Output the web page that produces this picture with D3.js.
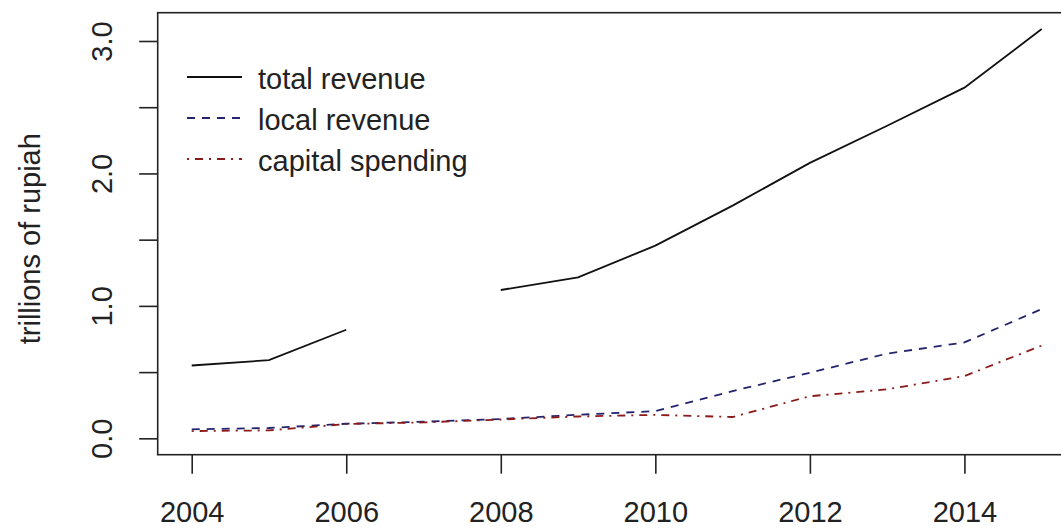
<!DOCTYPE html>
<html>
<head>
<meta charset="utf-8">
<script src="https://cdn.jsdelivr.net/npm/d3@7"></script>
<style>
  html, body { margin: 0; padding: 0; background: #fff; }
  svg { display: block; }
  text { font-family: "Liberation Sans", Arial, sans-serif; fill: #222; }
</style>
</head>
<body>
<svg id="chart" width="1061" height="529"></svg>
<script>
// Annual figures, trillions of rupiah
const years = [2004, 2005, 2006, 2007, 2008, 2009, 2010, 2011, 2012, 2013, 2014, 2015];
const totalRevenue = [0.55, 0.59, 0.82, null, 1.12, 1.215, 1.455, 1.757, 2.08, 2.36, 2.648, 3.09];
const localRevenue = [0.068, 0.078, 0.11, 0.125, 0.146, 0.178, 0.205, 0.357, 0.495, 0.64, 0.724, 0.976];
const capitalSpending = [0.055, 0.06, 0.108, 0.12, 0.142, 0.165, 0.177, 0.161, 0.318, 0.37, 0.47, 0.70];

const seriesNames = ["total revenue", "local revenue", "capital spending"];
const yTickValues = [0, 0.5, 1, 1.5, 2, 2.5, 3];
const yLabelValues = [0, 1, 2, 3];
const xTickValues = [2004, 2006, 2008, 2010, 2012, 2014];
const yTitle = "trillions of rupiah";

const svg = d3.select("#chart");

// Plot region (right side extends past the canvas)
const box = { left: 157.7, right: 1075.7, top: 12.7, bottom: 454.7 };

// 4% padding on both axes, as in base R plotting
const xPad = 0.04 * (d3.max(years) - d3.min(years));
const x = d3.scaleLinear()
  .domain([d3.min(years) - xPad, d3.max(years) + xPad])
  .range([box.left, box.right]);

const yLo = 0, yHi = 3.09, yPad = 0.04 * (yHi - yLo);
const y = d3.scaleLinear()
  .domain([yLo - yPad, yHi + yPad])
  .range([box.bottom, box.top]);

const styles = [
  { color: "#111111", dash: null },
  { color: "#23236e", dash: "8,7" },
  { color: "#8b1a1a", dash: "2,6,8,6" }
];
const values = [totalRevenue, localRevenue, capitalSpending];

// Series lines
const line = d3.line()
  .defined(d => d[1] != null)
  .x(d => x(d[0]))
  .y(d => y(d[1]));

values.forEach((vals, i) => {
  svg.append("path")
    .datum(years.map((yr, j) => [yr, vals[j]]))
    .attr("fill", "none")
    .attr("stroke", styles[i].color)
    .attr("stroke-width", 1.8)
    .attr("stroke-dasharray", styles[i].dash)
    .attr("d", line);
});

// Plot frame
svg.append("rect")
  .attr("x", box.left).attr("y", box.top)
  .attr("width", box.right - box.left)
  .attr("height", box.bottom - box.top)
  .attr("fill", "none")
  .attr("stroke", "#222")
  .attr("stroke-width", 1.6);

// X axis
const xAxis = d3.axisBottom(x)
  .tickValues(xTickValues)
  .tickSize(19)
  .tickPadding(20)
  .tickFormat(d3.format("d"));
const gx = svg.append("g")
  .attr("transform", `translate(0,${box.bottom})`)
  .call(xAxis);
gx.select(".domain").remove();
gx.selectAll(".tick line").attr("stroke", "#222").attr("stroke-width", 1.6);
gx.selectAll(".tick text")
  .attr("font-size", 29)
  .attr("fill", "#222")
  .attr("dy", null)
  .attr("y", 67);

// Y axis: ticks every 0.5, labels on whole numbers, rotated
const yAxis = d3.axisLeft(y)
  .tickValues(yTickValues)
  .tickSize(18.5)
  .tickFormat(d => yLabelValues.includes(d) ? d3.format(".1f")(d) : "");
const gy = svg.append("g")
  .attr("transform", `translate(${box.left},0)`)
  .call(yAxis);
gy.select(".domain").remove();
gy.selectAll(".tick line").attr("stroke", "#222").attr("stroke-width", 1.6);
gy.selectAll(".tick text")
  .attr("font-size", 29)
  .attr("fill", "#222")
  .attr("x", null).attr("dy", null)
  .attr("text-anchor", "middle")
  .attr("transform", "translate(-46,0) rotate(-90)");

// Y axis title
svg.append("text")
  .attr("transform", `translate(40,${(box.top + box.bottom) / 2 + 5}) rotate(-90)`)
  .attr("text-anchor", "middle")
  .attr("font-size", 29)
  .text(yTitle);

// Legend
const legend = svg.append("g");
seriesNames.forEach((name, i) => {
  const ly = 77 + i * 41;
  legend.append("line")
    .attr("x1", 187).attr("x2", 242)
    .attr("y1", ly).attr("y2", ly)
    .attr("stroke", styles[i].color)
    .attr("stroke-width", 1.8)
    .attr("stroke-dasharray", styles[i].dash);
  legend.append("text")
    .attr("x", 258)
    .attr("y", ly + 11.5)
    .attr("font-size", 29)
    .text(name);
});
</script>
</body>
</html>
